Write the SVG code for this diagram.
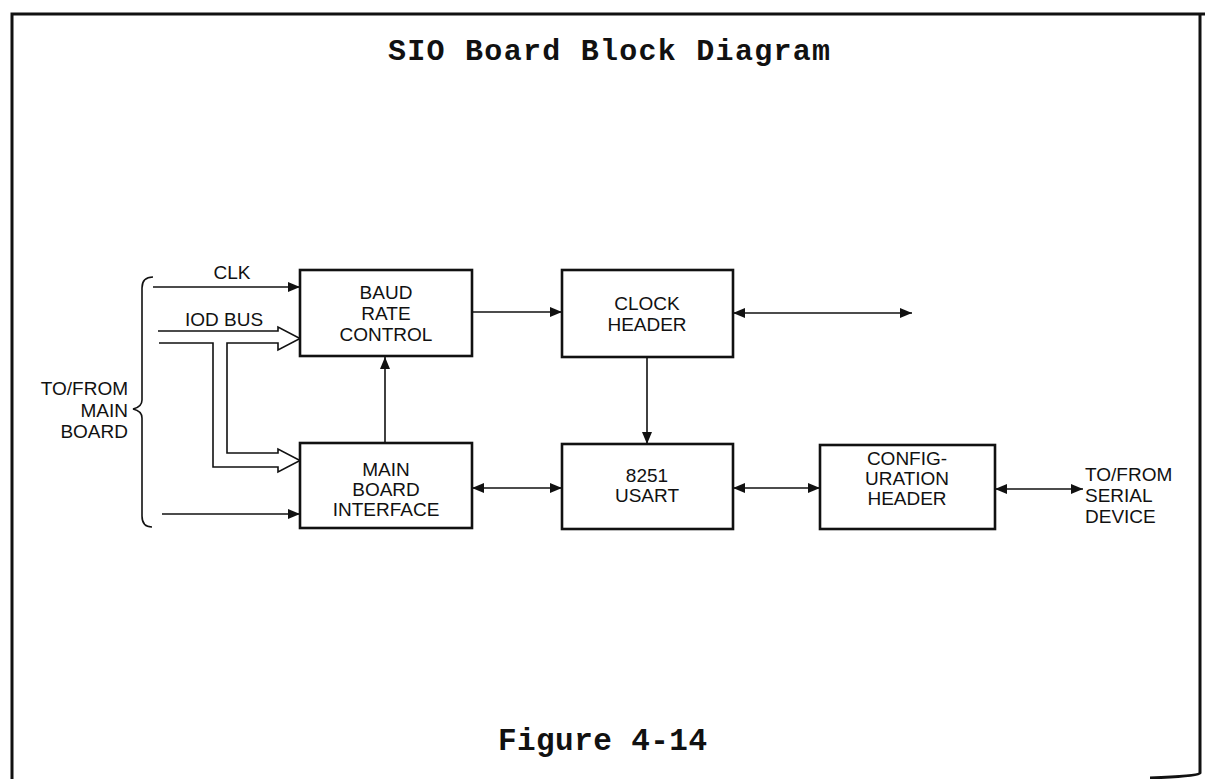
<svg xmlns="http://www.w3.org/2000/svg" width="1205" height="779" viewBox="0 0 1205 779">
<defs>
<style>
.box{fill:#fff;stroke:#111;stroke-width:2.6}
.t{font-family:"Liberation Sans",Arial,sans-serif;font-size:19px;fill:#111;text-anchor:middle}
.ln{fill:none;stroke:#111;stroke-width:1.6}
.frame{fill:none;stroke:#111;stroke-width:3}
.tt{font-family:"Liberation Mono","Courier New",monospace;font-weight:bold;fill:#111}
</style>
<marker id="ah" viewBox="0 0 12 10" refX="12" refY="5" markerWidth="12" markerHeight="10" markerUnits="userSpaceOnUse" orient="auto-start-reverse">
<path d="M0,0 L12,5 L0,10 z" fill="#111"/>
</marker>
</defs>
<rect width="1205" height="779" fill="#fff"/>
<g id="frame">
<path class="frame" d="M1205,14 H12 V779"/>
<path class="frame" d="M1200,14 V773 Q1199,776 1150,778"/>
</g>
<text class="tt" x="388" y="60" font-size="30" textLength="442" lengthAdjust="spacing">SIO Board Block Diagram</text>
<text class="tt" x="498" y="750" font-size="31" textLength="209" lengthAdjust="spacing">Figure 4-14</text>

<g id="connectors">
<line class="ln" x1="153" y1="287" x2="300" y2="287" marker-end="url(#ah)"/>
<path class="ln" d="M158,331 H278 V327 L300,338.5 L278,350 V343 H227 V453 H278 V449 L300,460.5 L278,472 V467 H213 V343 H159"/>
<line class="ln" x1="162" y1="514" x2="300" y2="514" marker-end="url(#ah)"/>
<line class="ln" x1="385" y1="443" x2="385" y2="357" marker-end="url(#ah)"/>
<line class="ln" x1="472" y1="312" x2="562" y2="312" marker-end="url(#ah)"/>
<line class="ln" x1="733" y1="313" x2="912" y2="313" marker-start="url(#ah)" marker-end="url(#ah)"/>
<line class="ln" x1="647" y1="357" x2="647" y2="444" marker-end="url(#ah)"/>
<line class="ln" x1="472" y1="488" x2="562" y2="488" marker-start="url(#ah)" marker-end="url(#ah)"/>
<line class="ln" x1="733" y1="488" x2="820" y2="488" marker-start="url(#ah)" marker-end="url(#ah)"/>
<line class="ln" x1="995" y1="489" x2="1083" y2="489" marker-start="url(#ah)" marker-end="url(#ah)"/>
<path class="ln" d="M153,277 Q142,277 142,288 V400 Q142,407 133,409 Q142,411 142,418 V516 Q142,527 152,527"/>
</g>

<g id="labels">
<text class="t" x="232" y="279">CLK</text>
<text class="t" x="224" y="326">IOD BUS</text>
<text class="t" x="128" y="395" style="text-anchor:end">TO/FROM</text>
<text class="t" x="128" y="417" style="text-anchor:end">MAIN</text>
<text class="t" x="128" y="438" style="text-anchor:end">BOARD</text>
<text class="t" x="1085" y="481" style="text-anchor:start">TO/FROM</text>
<text class="t" x="1085" y="502" style="text-anchor:start">SERIAL</text>
<text class="t" x="1085" y="523" style="text-anchor:start">DEVICE</text>
</g>

<g id="baud">
<rect class="box" x="300" y="270" width="172" height="86"/>
<text class="t" x="386" y="299">BAUD</text>
<text class="t" x="386" y="320">RATE</text>
<text class="t" x="386" y="341">CONTROL</text>
</g>
<g id="mbi">
<rect class="box" x="300" y="443" width="172" height="85"/>
<text class="t" x="386" y="476">MAIN</text>
<text class="t" x="386" y="496">BOARD</text>
<text class="t" x="386" y="516">INTERFACE</text>
</g>
<g id="clock">
<rect class="box" x="562" y="270" width="171" height="87"/>
<text class="t" x="647" y="310">CLOCK</text>
<text class="t" x="647" y="331">HEADER</text>
</g>
<g id="usart">
<rect class="box" x="562" y="444" width="171" height="85"/>
<text class="t" x="647" y="482">8251</text>
<text class="t" x="647" y="502">USART</text>
</g>
<g id="config">
<rect class="box" x="820" y="445" width="175" height="84"/>
<text class="t" x="907" y="465">CONFIG-</text>
<text class="t" x="907" y="485">URATION</text>
<text class="t" x="907" y="505">HEADER</text>
</g>
</svg>
